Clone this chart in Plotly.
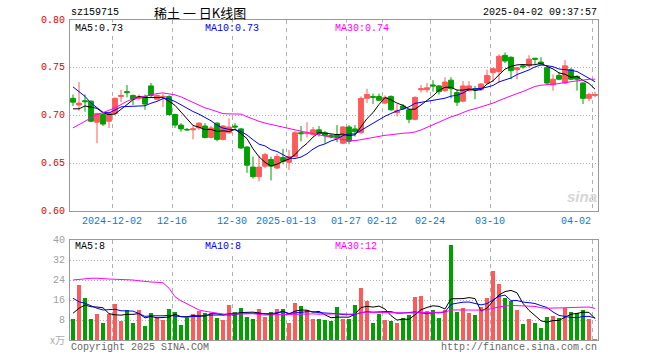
import plotly.graph_objects as go

# ---------------- data ----------------
tick_index = [7, 17, 27, 36, 46, 52, 60, 70, 87]
tick_labels = ["2024-12-02", "12-16", "12-30", "2025-01-13", "01-27",
               "02-12", "02-24", "03-10", "04-02"]
price_ticks = [0.60, 0.65, 0.70, 0.75, 0.80]
price_tick_labels = ["0.60", "0.65", "0.70", "0.75", "0.80"]
vol_ticks = [8, 16, 24, 32, 40]
vol_tick_labels = ["8", "16", "24", "32", "40"]

open_ = [0.718, 0.711, 0.7155, 0.715, 0.693, 0.701, 0.694, 0.702, 0.720, 0.725,
         0.721, 0.718, 0.720, 0.731, 0.717, 0.719, 0.720, 0.701, 0.690, 0.6855,
         0.685, 0.687, 0.689, 0.677, 0.692, 0.675, 0.682, 0.689, 0.686, 0.667,
         0.646, 0.636, 0.647, 0.654, 0.645, 0.656, 0.651, 0.657, 0.682, 0.681,
         0.680, 0.685, 0.682, 0.679, 0.680, 0.671, 0.688, 0.686, 0.682, 0.718,
         0.720, 0.720, 0.713, 0.720, 0.703, 0.710, 0.706, 0.696, 0.727, 0.727,
         0.732, 0.731, 0.726, 0.737, 0.724, 0.715, 0.726, 0.728, 0.727, 0.734,
         0.745, 0.746, 0.763, 0.761, 0.748, 0.752, 0.752, 0.760, 0.756, 0.750,
         0.732, 0.742, 0.734, 0.748, 0.741, 0.734, 0.718, 0.721]
high = [0.722, 0.735, 0.722, 0.716, 0.703, 0.703, 0.704, 0.719, 0.727, 0.732,
        0.722, 0.722, 0.722, 0.734, 0.723, 0.723, 0.721, 0.702, 0.692, 0.687,
        0.690, 0.693, 0.692, 0.689, 0.693, 0.690, 0.697, 0.692, 0.687, 0.668,
        0.657, 0.658, 0.661, 0.657, 0.660, 0.665, 0.664, 0.684, 0.689, 0.693,
        0.688, 0.689, 0.684, 0.681, 0.690, 0.689, 0.690, 0.690, 0.720, 0.728,
        0.723, 0.723, 0.721, 0.721, 0.712, 0.712, 0.707, 0.720, 0.732, 0.734,
        0.737, 0.732, 0.740, 0.740, 0.727, 0.736, 0.736, 0.731, 0.734, 0.748,
        0.750, 0.764, 0.766, 0.762, 0.751, 0.754, 0.763, 0.760, 0.761, 0.751,
        0.743, 0.745, 0.758, 0.750, 0.742, 0.735, 0.724, 0.725]
low = [0.710, 0.705, 0.704, 0.693, 0.671, 0.689, 0.687, 0.700, 0.714, 0.719,
       0.711, 0.716, 0.706, 0.719, 0.716, 0.709, 0.700, 0.687, 0.683, 0.684,
       0.675, 0.685, 0.676, 0.676, 0.673, 0.674, 0.681, 0.685, 0.665, 0.640,
       0.634, 0.631, 0.645, 0.632, 0.644, 0.649, 0.643, 0.656, 0.673, 0.677,
       0.679, 0.678, 0.671, 0.676, 0.672, 0.670, 0.670, 0.678, 0.681, 0.713,
       0.712, 0.715, 0.712, 0.705, 0.699, 0.706, 0.692, 0.695, 0.724, 0.724,
       0.725, 0.722, 0.725, 0.718, 0.710, 0.714, 0.725, 0.717, 0.726, 0.733,
       0.735, 0.734, 0.755, 0.738, 0.738, 0.749, 0.750, 0.753, 0.752, 0.732,
       0.726, 0.737, 0.733, 0.737, 0.726, 0.712, 0.715, 0.719]
close = [0.714, 0.713, 0.7145, 0.694, 0.702, 0.691, 0.703, 0.718, 0.721, 0.724,
         0.717, 0.720, 0.712, 0.721, 0.721, 0.720, 0.701, 0.690, 0.686, 0.685,
         0.686, 0.692, 0.677, 0.687, 0.675, 0.689, 0.688, 0.688, 0.666, 0.648,
         0.636, 0.646, 0.659, 0.647, 0.657, 0.652, 0.657, 0.682, 0.681, 0.682,
         0.685, 0.681, 0.679, 0.678, 0.677, 0.688, 0.673, 0.683, 0.718, 0.722,
         0.719, 0.716, 0.719, 0.706, 0.705, 0.707, 0.696, 0.719, 0.728, 0.729,
         0.731, 0.725, 0.735, 0.728, 0.714, 0.731, 0.731, 0.727, 0.733, 0.742,
         0.749, 0.762, 0.757, 0.747, 0.750, 0.751, 0.759, 0.759, 0.754, 0.734,
         0.738, 0.738, 0.752, 0.738, 0.738, 0.718, 0.722, 0.722]
volume = [8.4, 22.0, 16.8, 8.4, 10.4, 6.8, 10.4, 14.4, 7.7, 12.0,
          6.8, 12.0, 5.6, 10.8, 9.1, 8.0, 12.4, 11.3, 6.0, 8.8,
          10.4, 11.7, 10.8, 10.8, 8.8, 8.0, 14.0, 11.3, 12.8, 9.2,
          8.4, 12.4, 9.2, 11.3, 12.4, 12.4, 6.8, 14.8, 13.6, 12.0,
          8.4, 8.4, 8.0, 7.7, 13.2, 8.4, 8.4, 14.0, 20.9, 15.7,
          6.8, 10.5, 8.0, 7.7, 6.8, 8.8, 10.0, 17.2, 17.6, 11.6,
          12.0, 8.8, 12.0, 38.0, 11.2, 12.8, 10.8, 10.0, 13.2, 16.8,
          27.6, 22.4, 16.8, 15.6, 12.0, 6.4, 8.4, 6.8, 4.8, 9.2,
          9.6, 8.8, 12.8, 11.2, 10.8, 12.0, 8.4, 0.4]

# moving-average values at the start of the window (need history before it)
ma5_head = [0.707, 0.707, 0.710, 0.709]
ma10_head = [0.730, 0.7254, 0.720, 0.713, 0.708, 0.7034, 0.7027, 0.7055, 0.709]
ma30_head = [0.687, 0.6905, 0.6948, 0.6975, 0.701, 0.703, 0.7055, 0.708, 0.7114,
             0.7149, 0.7174, 0.719, 0.720, 0.7216, 0.723, 0.7237, 0.7230, 0.7216,
             0.7195, 0.7167, 0.714, 0.7111, 0.708, 0.7062, 0.704, 0.702, 0.7017,
             0.7017, 0.7015]
vma5_head = [10.7, 12.7, 14.0, 13.3]
vma10_head = [16.7, 15.3, 14.7, 13.6, 12.7, 12.0, 12.0, 12.3, 11.7]
vma30_head = [24.0, 24.3, 24.5, 24.7, 24.7, 24.4, 24.4, 24.3, 24.3, 24.3, 24.0,
              23.7, 23.3, 23.2, 23.1, 22.9, 20.7, 17.3, 15.7, 14.4, 13.1, 12.0,
              11.5, 11.1, 10.7, 10.4, 10.3, 10.3, 10.3]

RED = "#ff5a5a"
GREEN = "#00a000"
n = len(close)
idx = list(range(n))


def moving(vals, k, head):
    out = list(head)
    for i in range(len(head), len(vals)):
        out.append(sum(vals[i - k + 1:i + 1]) / k)
    return out


ma5 = moving(close, 5, ma5_head)
ma10 = moving(close, 10, ma10_head)
ma30 = moving(close, 30, ma30_head)
vma5 = moving(volume, 5, vma5_head)
vma10 = moving(volume, 10, vma10_head)
vma30 = moving(volume, 30, vma30_head)

vol_colors = [RED if c > o else GREEN for o, c in zip(open_, close)]

fig = go.Figure()
fig.add_trace(go.Candlestick(
    x=idx, open=open_, high=high, low=low, close=close,
    increasing=dict(line=dict(color=RED, width=1), fillcolor=RED),
    decreasing=dict(line=dict(color=GREEN, width=1), fillcolor=GREEN),
    whiskerwidth=0, hoverinfo="skip", xaxis="x", yaxis="y"))
for vals, col in [(ma5, "black"), (ma10, "#0000ff"), (ma30, "#ff00ff")]:
    fig.add_trace(go.Scatter(x=idx, y=vals, mode="lines", line=dict(color=col, width=1),
                             hoverinfo="skip", xaxis="x", yaxis="y"))
fig.add_trace(go.Bar(x=idx, y=volume, marker=dict(color=vol_colors, line=dict(width=0)),
                     width=0.8, hoverinfo="skip", xaxis="x2", yaxis="y2"))
for vals, col in [(vma5, "black"), (vma10, "#0000ff"), (vma30, "#ff00ff")]:
    fig.add_trace(go.Scatter(x=idx, y=vals, mode="lines", line=dict(color=col, width=1),
                             hoverinfo="skip", xaxis="x2", yaxis="y2"))

MONO = "Liberation Mono"
GRID = "#b0b0b0"
FRAME = "#999999"
tickpos = [i - 0.5 for i in tick_index]

common_x = dict(range=[-0.5, n - 0.5], tickvals=tickpos, showgrid=True, gridcolor=GRID,
                griddash="4px,4px", gridwidth=1, showline=True, mirror=True,
                linecolor=FRAME, linewidth=1, zeroline=False, ticks="",
                showticklabels=False, fixedrange=True)
common_y = dict(showgrid=True, gridcolor=GRID, griddash="1px,2px", showline=True,
                mirror=True, linecolor=FRAME, zeroline=False, ticks="",
                showticklabels=False, fixedrange=True)

fig.update_layout(
    width=660, height=360,
    margin=dict(l=70, r=62, t=20, b=20),
    paper_bgcolor="white", plot_bgcolor="white",
    showlegend=False, boxgap=0.2, boxgroupgap=0, bargap=0,
    xaxis=dict(domain=[0, 1], anchor="y", rangeslider=dict(visible=False), **common_x),
    yaxis=dict(domain=[0.403, 1], anchor="x", range=[0.60, 0.80],
               tickvals=price_ticks, **common_y),
    xaxis2=dict(domain=[0, 1], anchor="y2", **common_x),
    yaxis2=dict(domain=[0, 0.3125], anchor="x2", range=[0, 40],
                tickvals=vol_ticks, **common_y),
)


def px_x(px):
    return (px - 70) / 528.0


def px_y(py):
    return (340 - py) / 320.0


def label(text, x, y, color="black", anchor="left", size=10, family=MONO, bg=None,
          xref="paper", yref="paper", xval=None, yval=None):
    fig.add_annotation(text=text,
                       x=px_x(x) if xval is None else xval,
                       y=px_y(y) if yval is None else yval,
                       xref=xref, yref=yref,
                       xanchor=anchor, yanchor="middle", showarrow=False,
                       bgcolor=bg, borderpad=0,
                       font=dict(family=family, size=size, color=color))


# tick labels
for t, lab in zip(tickpos, tick_labels):
    anc = "right" if t > n - 2 else "center"
    label(lab, 0, 221, color="#0a7ad0", anchor=anc, xref="x", xval=t)
for v, lab in zip(price_ticks, price_tick_labels):
    label(lab, 66, 0, color="#e60000", anchor="right", yref="y", yval=v)
for v, lab in zip(vol_ticks, vol_tick_labels):
    label(lab, 66, 0, color="#a0a0a0", anchor="right", yref="y2", yval=v)

label("sz159715", 70, 13)
label("稀土 一 日K线图", 200, 12, anchor="center", size=13, family="Noto Sans CJK SC")
label("2025-04-02 09:37:57", 598, 13, anchor="right")
label("MA5:0.73", 74, 28, bg="white")
label("MA10:0.73", 204, 28, color="#0000ff", bg="white")
label("MA30:0.74", 334, 28, color="#ff00ff", bg="white")
label("MA5:8", 74, 246, bg="white")
label("MA10:8", 204, 246, color="#0000ff", bg="white")
label("MA30:12", 334, 246, color="#ff00ff", bg="white")
label("x万", 66, 339, color="#aaaaaa", anchor="right", size=10, family="Noto Sans CJK SC")
label("Copyright 2025 SINA.COM", 70, 347, color="#666666")
label("http://finance.sina.com.cn", 598, 347, color="#666666", anchor="right")
label("<b><i>sina</i></b>", 582, 196, color="#d6d6d6", anchor="center", size=15, family="Arial")

fig.write_html("out.html", config={"displayModeBar": False, "staticPlot": True},
               post_script="document.body.style.margin='0px';document.body.style.padding='0px';")
